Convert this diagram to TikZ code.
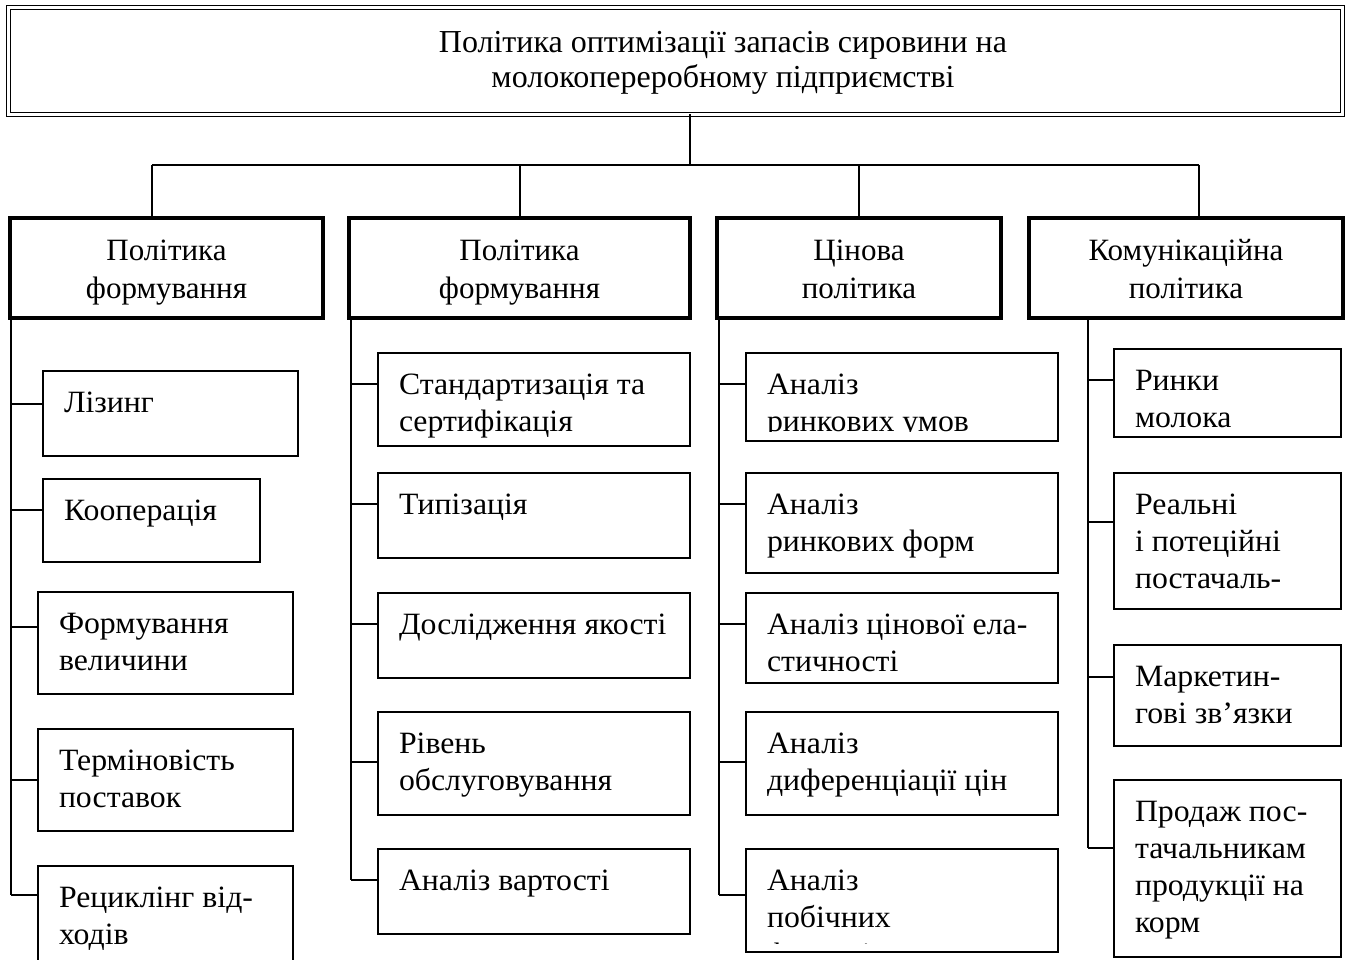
\documentclass[tikz,border=0pt]{standalone}
\usepackage{fontspec}
\setmainfont{Liberation Serif}
\newfontfamily\subfont[FakeStretch=1.025]{Liberation Serif}
\usetikzlibrary{calc}
% name, x1, y1, x2, y2, text, clip bottom
\newcommand\mkboxc[7]{%
  \begin{scope}
    \clip ({#2},{#3}) rectangle ({#4},{#7});
    \node[txt] (#1t) at ({#2+21},{#3+16}) {\strut #6};
  \end{scope}
  \node[sub, minimum width={#4-#2}, minimum height={#5-#3}] (#1) at ({(#2+#4)/2},{(#3+#5)/2}) {};}
\newcommand\mkbox[6]{\mkboxc{#1}{#2}{#3}{#4}{#5}{#6}{#5}}
\newcommand\mktick[3]{%
  \coordinate (#1k) at (#2,#3);
  \draw[conn] (#1k) -- (#1k -| #1.west);}
\newcommand\hstrut{\rule{0pt}{34.6pt}}
\begin{document}
\begin{tikzpicture}[x=1pt,y=-1pt,
  every node/.style={inner sep=0pt, outer sep=0pt},
  hdr/.style={draw, line width=4.5pt, align=center, font=\fontsize{31}{38}\selectfont},
  sub/.style={draw, line width=1.6pt},
  txt/.style={anchor=north west, align=left, font=\subfont\fontsize{31}{37}\selectfont},
  conn/.style={line width=1.6pt}]
\useasboundingbox[fill=white] (0,0) rectangle (1349,960);
% title
\node[draw, double, line width=1.5pt, double distance=2.5pt, minimum width=1334, minimum height=107] (title) at (675.5,61) {};
\node[align=center, font=\fontsize{32}{35}\selectfont] (titlet) at (723,63) {\strut Політика оптимізації запасів сировини на\\молокопереробному підприємстві\strut};
% headers
\node[hdr, minimum width=313, minimum height=100] (h1) at (166.5,268) {\hstrut Політика\\формування\strut};
\node[hdr, minimum width=341, minimum height=100] (h2) at (519.5,268) {\hstrut Політика\\формування\strut};
\node[hdr, minimum width=284, minimum height=100] (h3) at (859,268) {\hstrut Цінова\\політика\strut};
\node[hdr, minimum width=314, minimum height=100] (h4) at (1186,268) {\hstrut Комунікаційна\\політика\strut};
% top connectors
\coordinate (j0) at (690,165);
\coordinate (j1) at (152,165);
\coordinate (j2) at (520,165);
\coordinate (j3) at (859,165);
\coordinate (j4) at (1199,165);
\draw[conn] (title.south -| j0) -- (j0);
\draw[conn] (j1) -- (j4);
\draw[conn] (j1) -- (j1 |- h1.north);
\draw[conn] (j2) -- (j2 |- h2.north);
\draw[conn] (j3) -- (j3 |- h3.north);
\draw[conn] (j4) -- (j4 |- h4.north);
% spines
\coordinate (s1) at (11,895);
\coordinate (s2) at (351,880);
\coordinate (s3) at (719,895);
\coordinate (s4) at (1088,848);
\draw[conn] (s1 |- h1.south) -- (s1);
\draw[conn] (s2 |- h2.south) -- (s2);
\draw[conn] (s3 |- h3.south) -- (s3);
\draw[conn] (s4 |- h4.south) -- (s4);
% column 1
\mkbox{a1}{43}{371}{298}{456}{Лізинг}
\mkbox{a2}{43}{479}{260}{562}{Кооперація}
\mkbox{a3}{38}{592}{293}{694}{Формування\\величини}
\mkbox{a4}{38}{729}{293}{831}{Терміновість\\поставок}
\mkbox{a5}{38}{866}{293}{964}{Рециклінг від-\\ходів}
\mktick{a1}{11}{404}
\mktick{a2}{11}{510}
\mktick{a3}{11}{627}
\mktick{a4}{11}{780}
\mktick{a5}{11}{895}
% column 2
\mkbox{b1}{378}{353}{690}{446}{Стандартизація та\\сертифікація}
\mkbox{b2}{378}{473}{690}{558}{Типізація}
\mkbox{b3}{378}{593}{690}{678}{Дослідження якості}
\mkbox{b4}{378}{712}{690}{815}{Рівень\\обслуговування}
\mkbox{b5}{378}{849}{690}{934}{Аналіз вартості}
\mktick{b1}{351}{384}
\mktick{b2}{351}{504}
\mktick{b3}{351}{624}
\mktick{b4}{351}{762}
\mktick{b5}{351}{880}
% column 3
\mkboxc{c1}{746}{353}{1058}{441}{Аналіз\\ринкових умов}{431}
\mkbox{c2}{746}{473}{1058}{573}{Аналіз\\ринкових форм}
\mkbox{c3}{746}{593}{1058}{683}{Аналіз цінової ела-\\стичності}
\mkbox{c4}{746}{712}{1058}{815}{Аналіз\\диференціації цін}
\mkboxc{c5}{746}{849}{1058}{952}{Аналіз\\побічних\\факторів}{943}
\mktick{c1}{719}{384}
\mktick{c2}{719}{504}
\mktick{c3}{719}{624}
\mktick{c4}{719}{762}
\mktick{c5}{719}{895}
% column 4
\mkbox{d1}{1114}{349}{1341}{437}{Ринки\\молока}
\mkbox{d2}{1114}{473}{1341}{609}{Реальні\\і потеційні\\постачаль-}
\mkbox{d3}{1114}{645}{1341}{746}{Маркетин-\\гові зв’язки}
\mkbox{d4}{1114}{780}{1341}{957}{Продаж пос-\\тачальникам\\продукції на\\корм}
\mktick{d1}{1088}{380}
\mktick{d2}{1088}{522}
\mktick{d3}{1088}{677}
\mktick{d4}{1088}{848}
\end{tikzpicture}
\end{document}
